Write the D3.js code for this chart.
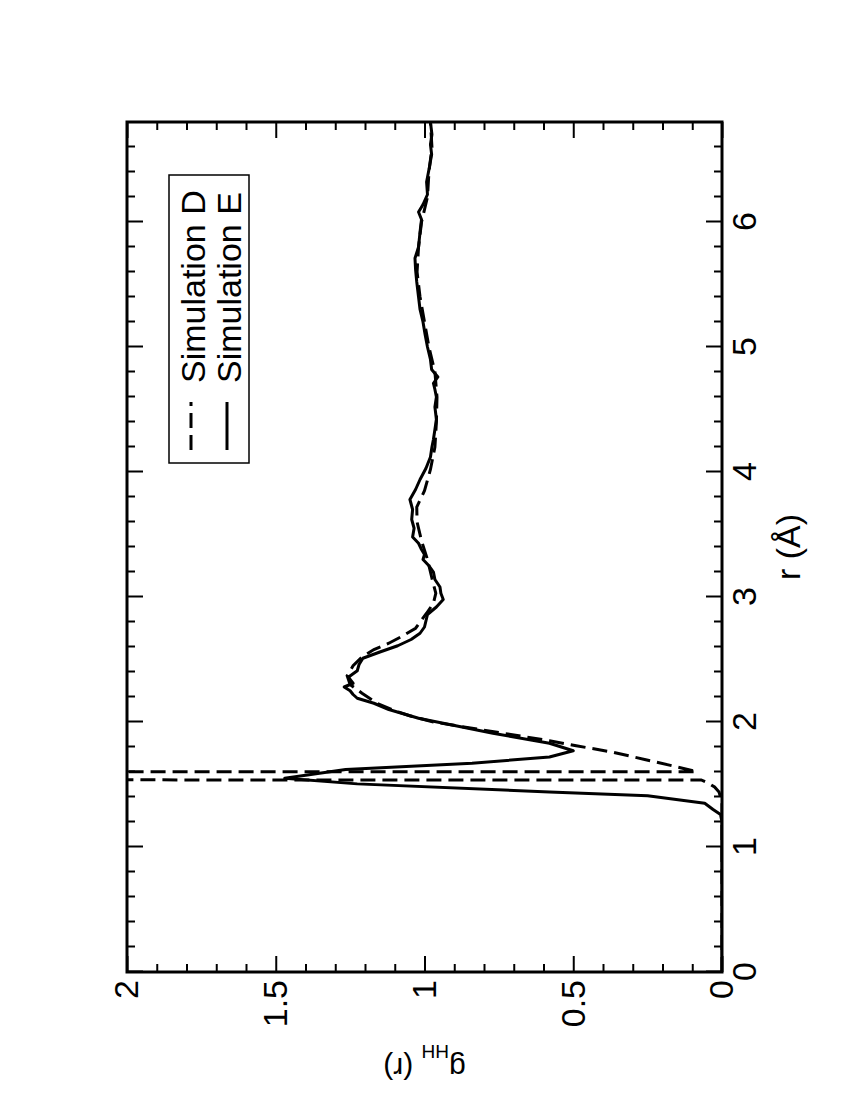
<!DOCTYPE html>
<html>
<head>
<meta charset="utf-8">
<script src="https://cdn.jsdelivr.net/npm/d3@7"></script>
<style>
  body { margin: 0; background: #fff; }
  text { font-family: "Liberation Sans", Arial, sans-serif; }
</style>
</head>
<body>
<div id="chart"></div>
<script>
// r grid and g(r) values
var rSimD = [0, 0.5, 1.0, 1.35, 1.40, 1.44, 1.48, 1.51, 1.536, 1.57, 1.603, 1.65, 1.70, 1.76, 1.81, 1.85, 1.90, 1.95, 2.00, 2.05, 2.09, 2.15, 2.23, 2.30, 2.37, 2.45, 2.52, 2.58, 2.63, 2.68, 2.75, 2.87, 2.95, 3.03, 3.15, 3.30, 3.45, 3.60, 3.72, 3.85, 4.02, 4.20, 4.40, 4.60, 4.80, 5.00, 5.20, 5.40, 5.60, 5.80, 6.00, 6.20, 6.40, 6.60, 6.80];
var gSimD = [0, 0, 0, 0, 0.005, 0.01, 0.025, 0.045, 0.07, 60, 0.085, 0.168, 0.26, 0.37, 0.49, 0.58, 0.71, 0.84, 0.97, 1.05, 1.10, 1.16, 1.21, 1.25, 1.26, 1.24, 1.21, 1.17, 1.12, 1.08, 1.03, 0.993, 0.97, 0.962, 0.975, 0.99, 1.01, 1.025, 1.026, 1.0, 0.98, 0.965, 0.96, 0.958, 0.965, 0.985, 1.0, 1.015, 1.025, 1.02, 1.01, 0.99, 0.985, 0.975, 0.98];

var rSimE = [0, 0.5, 1.0, 1.2, 1.26, 1.30, 1.35, 1.41, 1.44, 1.505, 1.55, 1.62, 1.67, 1.72, 1.77, 1.83, 1.91, 2.03, 2.10, 2.15, 2.19, 2.22, 2.25, 2.28, 2.31, 2.34, 2.36, 2.41, 2.46, 2.51, 2.56, 2.61, 2.66, 2.71, 2.76, 2.81, 2.86, 2.92, 2.98, 3.03, 3.08, 3.14, 3.20, 3.25, 3.30, 3.34, 3.38, 3.43, 3.48, 3.55, 3.62, 3.70, 3.78, 3.86, 3.94, 4.03, 4.12, 4.20, 4.26, 4.34, 4.42, 4.52, 4.60, 4.66, 4.71, 4.76, 4.82, 4.90, 5.00, 5.10, 5.20, 5.30, 5.40, 5.52, 5.62, 5.71, 5.80, 5.92, 6.02, 6.08, 6.14, 6.22, 6.32, 6.42, 6.54, 6.62, 6.70, 6.80];
var gSimE = [0, 0, 0, 0, 0.005, 0.03, 0.058, 0.25, 0.58, 1.226, 1.47, 1.265, 0.84, 0.58, 0.50, 0.58, 0.77, 1.02, 1.12, 1.17, 1.226, 1.24, 1.25, 1.27, 1.24, 1.25, 1.255, 1.226, 1.22, 1.207, 1.15, 1.09, 1.045, 1.015, 1.0, 0.995, 0.99, 0.96, 0.937, 0.945, 0.948, 0.965, 0.97, 0.985, 1.005, 1.0, 1.01, 1.02, 1.04, 1.035, 1.043, 1.04, 1.049, 1.03, 1.015, 0.995, 0.98, 0.975, 0.97, 0.965, 0.96, 0.965, 0.96, 0.965, 0.97, 0.955, 0.976, 0.98, 0.99, 0.998, 1.005, 1.015, 1.02, 1.026, 1.03, 1.032, 1.02, 1.015, 1.01, 1.02, 1.005, 0.99, 0.993, 0.985, 0.976, 0.98, 0.975, 0.98];

var rMajor = [0, 1, 2, 3, 4, 5, 6];
var rMinor = [0.2, 0.4, 0.6, 0.8, 1.2, 1.4, 1.6, 1.8, 2.2, 2.4, 2.6, 2.8, 3.2, 3.4, 3.6, 3.8, 4.2, 4.4, 4.6, 4.8, 5.2, 5.4, 5.6, 5.8, 6.2, 6.4, 6.6];
var gMajor = [0, 0.5, 1, 1.5, 2];
var gMinor = [0.1, 0.2, 0.3, 0.4, 0.6, 0.7, 0.8, 0.9, 1.1, 1.2, 1.3, 1.4, 1.6, 1.7, 1.8, 1.9];
var seriesNames = ["Simulation D", "Simulation E"];

// the whole figure is drawn upright, then turned a quarter turn counter-clockwise
var margin = {top: 127, right: 122, bottom: 128, left: 128},
    width = 850,
    height = 595;

var svg = d3.select("#chart")
  .append("svg")
    .attr("width", 850)
    .attr("height", 1100);

var fig = svg.append("g")
    .attr("transform", "translate(0,1100) rotate(-90)");

var plot = fig.append("g")
    .attr("transform", "translate(" + margin.left + "," + margin.top + ")");

var x = d3.scaleLinear().domain([0, 6.8]).range([0, width]);
var y = d3.scaleLinear().domain([0, 2]).range([height, 0]);

plot.append("clipPath")
    .attr("id", "clip")
  .append("rect")
    .attr("width", width)
    .attr("height", height);

// ---- ticks on all four sides, pointing inward ----
function styleAxis(g) {
  g.select(".domain").remove();
  g.selectAll("line").attr("stroke", "#000").attr("stroke-width", 2);
  g.selectAll("text")
    .attr("font-size", 34)
    .attr("font-family", "Liberation Sans, Arial, sans-serif")
    .attr("fill", "#000");
}

plot.append("g")
    .attr("transform", "translate(0," + height + ")")
    .call(d3.axisBottom(x).tickValues(rMajor).tickSize(-16).tickPadding(10).tickFormat(d3.format("d")))
    .call(styleAxis);
plot.append("g")
    .attr("transform", "translate(0," + height + ")")
    .call(d3.axisBottom(x).tickValues(rMinor).tickSize(-8).tickFormat(""))
    .call(styleAxis);
plot.append("g")
    .call(d3.axisTop(x).tickValues(rMajor).tickSize(-16).tickFormat(""))
    .call(styleAxis);
plot.append("g")
    .call(d3.axisTop(x).tickValues(rMinor).tickSize(-8).tickFormat(""))
    .call(styleAxis);

plot.append("g")
    .call(d3.axisLeft(y).tickValues(gMajor).tickSize(-16).tickPadding(8).tickFormat(function(d) { return d; }))
    .call(styleAxis);
plot.append("g")
    .call(d3.axisLeft(y).tickValues(gMinor).tickSize(-8).tickFormat(""))
    .call(styleAxis);
plot.append("g")
    .attr("transform", "translate(" + width + ",0)")
    .call(d3.axisRight(y).tickValues(gMajor).tickSize(-16).tickFormat(""))
    .call(styleAxis);
plot.append("g")
    .attr("transform", "translate(" + width + ",0)")
    .call(d3.axisRight(y).tickValues(gMinor).tickSize(-8).tickFormat(""))
    .call(styleAxis);

// ---- curves ----
var line = d3.line()
    .x(function(d) { return x(d[0]); })
    .y(function(d) { return y(d[1]); });

var curves = plot.append("g").attr("clip-path", "url(#clip)");

curves.append("path")
    .datum(d3.zip(rSimD, gSimD))
    .attr("fill", "none")
    .attr("stroke", "#000")
    .attr("stroke-width", 3)
    .attr("stroke-dasharray", "15,7")
    .attr("d", line);

curves.append("path")
    .datum(d3.zip(rSimE, gSimE))
    .attr("fill", "none")
    .attr("stroke", "#000")
    .attr("stroke-width", 3)
    .attr("stroke-linejoin", "round")
    .attr("d", line);

// frame
plot.append("rect")
    .attr("width", width)
    .attr("height", height)
    .attr("fill", "none")
    .attr("stroke", "#000")
    .attr("stroke-width", 3);

// ---- axis titles ----
plot.append("text")
    .attr("x", width / 2)
    .attr("y", height + 78)
    .attr("font-size", 34)
    .attr("text-anchor", "middle")
    .text("r (\u00C5)");

var yTitle = plot.append("text")
    .attr("transform", "translate(" + (42 - margin.left) + "," + (height / 2) + ") rotate(-90)")
    .attr("font-size", 30)
    .attr("text-anchor", "middle");
yTitle.append("tspan").text("g");
yTitle.append("tspan").attr("font-size", 19).attr("dy", 13).text("HH");
yTitle.append("tspan").attr("dy", -13).text(" (r)");

// ---- legend ----
var legend = plot.append("g")
    .attr("transform", "translate(" + (637 - margin.left) + "," + (169 - margin.top) + ")");

legend.append("rect")
    .attr("width", 288)
    .attr("height", 80)
    .attr("fill", "#fff")
    .attr("stroke", "#000")
    .attr("stroke-width", 1.5);

var dashes = ["15,7", null];
seriesNames.forEach(function(name, i) {
  var row = legend.append("g").attr("transform", "translate(0," + (22 + i * 36) + ")");
  row.append("line")
      .attr("x1", 13).attr("x2", 61)
      .attr("y1", 0).attr("y2", 0)
      .attr("stroke", "#000")
      .attr("stroke-width", 3)
      .attr("stroke-dasharray", dashes[i]);
  row.append("text")
      .attr("x", 80)
      .attr("y", 14)
      .attr("font-size", 34)
      .text(name);
});
</script>
</body>
</html>
